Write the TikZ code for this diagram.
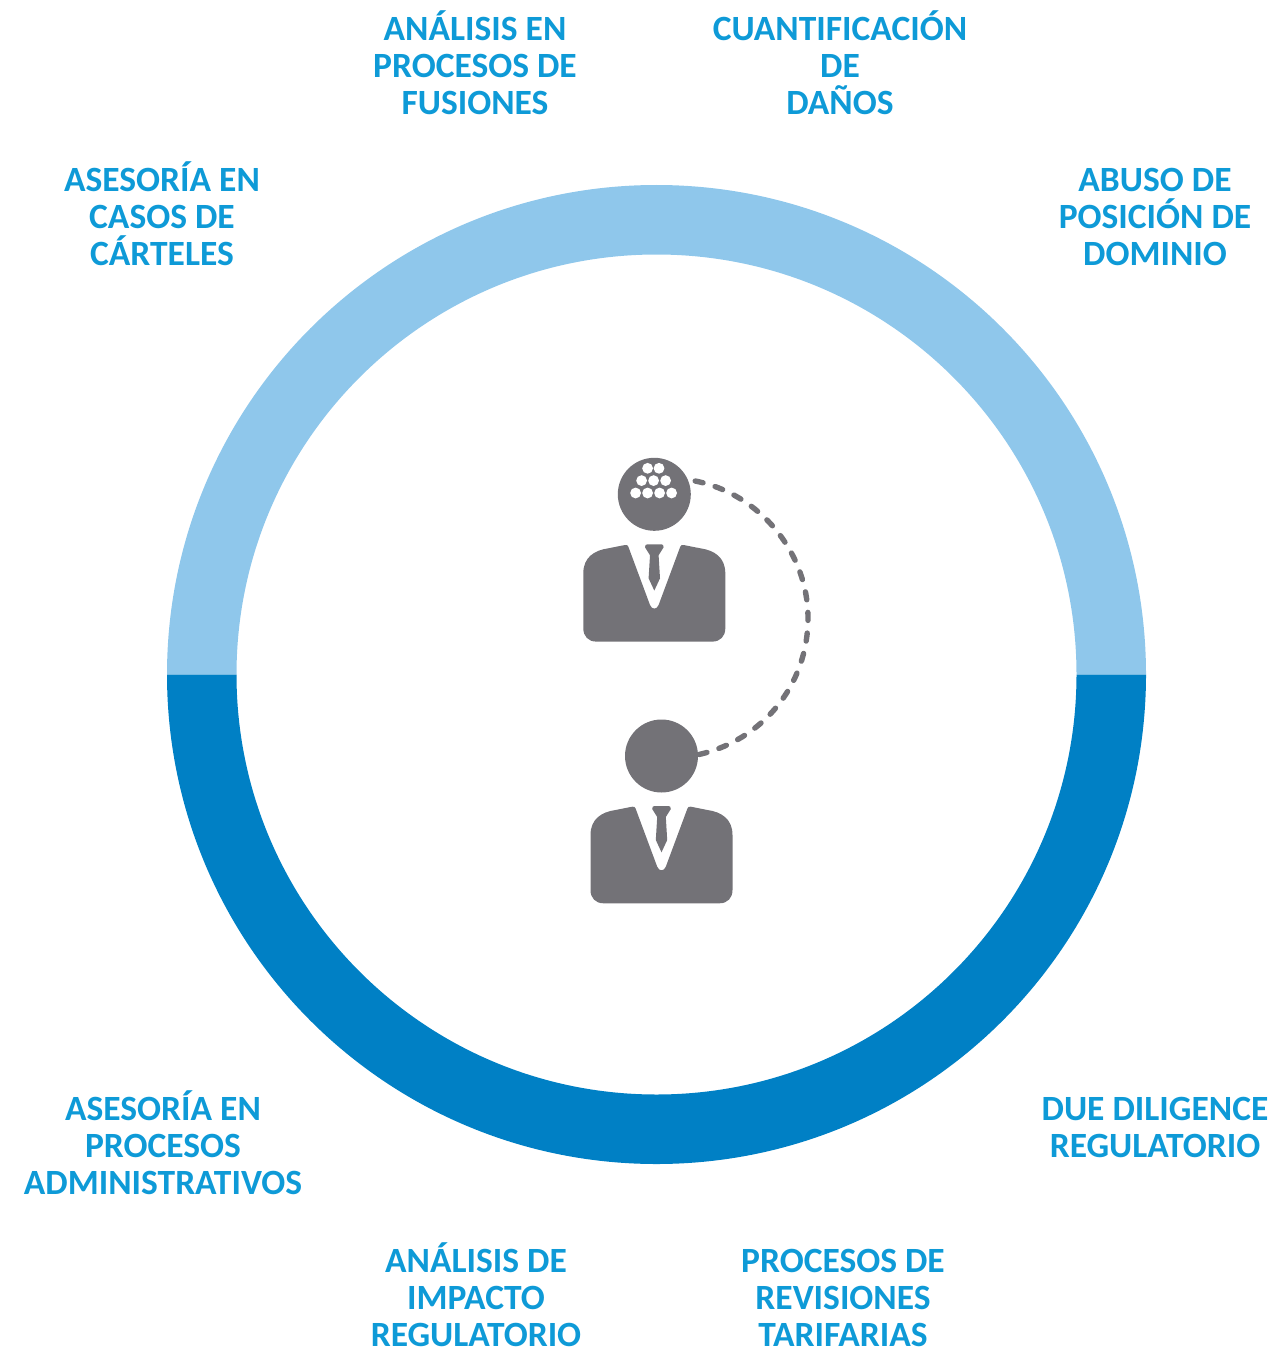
\documentclass[tikz,border=0pt]{standalone}
\usepackage{fontspec}
\setmainfont{Carlito}[Scale=1]
\definecolor{ringlight}{HTML}{8FC7EB}
\definecolor{ringdark}{HTML}{0080C5}
\definecolor{labelblue}{HTML}{0E9AD7}
\definecolor{suit}{HTML}{737277}
\tikzset{
  x=1pt,y=-1pt,
  lbl/.style={text=labelblue,align=center,inner sep=0pt,font=\fontsize{35.5}{37}\selectfont\bfseries},
  headball/.style={circle,fill=suit,minimum size=73pt,inner sep=0pt,outer sep=0pt},
  dot/.style={fill=white},
  link/.style={draw=suit,line width=5.4pt,line cap=round,dash pattern=on 8pt off 12.7pt},
  pics/suitbody/.style={code={
    \fill[suit] (-71,79) .. controls (-71,63) and (-60,56) .. (-46,54) -- (-29.3,50.7)
      .. controls (-27.5,50.4) and (-26.6,51) .. (-26,52.3) -- (-4.3,110.7)
      .. controls (-2.5,115.5) and (2.5,115.5) .. (4.3,110.7) -- (26,52.3)
      .. controls (26.6,51) and (27.5,50.4) .. (29.3,50.7) -- (46,54)
      .. controls (60,56) and (71,63) .. (71,79) -- (71,134)
      .. controls (71,142) and (66,147.3) .. (58,147.3) -- (-58,147.3)
      .. controls (-66,147.3) and (-71,142) .. (-71,134) -- cycle;
    \fill[suit] (-9.3,53) .. controls (-9.3,51) and (-8.5,50) .. (-7,50) -- (7,50)
      .. controls (8.5,50) and (9.3,51) .. (9.3,53) -- (4.3,61) -- (5.7,84) -- (0,96.3)
      -- (-5.7,84) -- (-4.3,61) -- cycle;
  }},
}
\begin{document}
\begin{tikzpicture}
\useasboundingbox (0,0) rectangle (1272,1351);
% ring
\fill[ringlight] (167,674.5) arc[start angle=180,end angle=0,radius=489.5pt] -- (1076.5,674.5) arc[start angle=0,end angle=180,radius=420pt] -- cycle;
\fill[ringdark] (167,674.5) arc[start angle=180,end angle=360,radius=489.5pt] -- (1076.5,674.5) arc[start angle=360,end angle=180,radius=420pt] -- cycle;
% people
\node[headball,outer sep=6.5pt] (headA) at (654.3,494.3) {};
\pic at (654.3,494.3) {suitbody};
\foreach \dx/\dy in {-6.7/-26,4.7/-26,-12.7/-13.7,-0.7/-13.7,11.3/-13.7,-18.7/-1.3,-6.7/-1.3,5.3/-1.3,17.3/-1.3}
  \fill[dot] (654.3+\dx,494.3+\dy) circle[radius=5.4pt];
\node[headball] (headB) at (661.5,756) {};
\pic at (661.5,756) {suitbody};
\coordinate (bend) at (808,618);
\draw[link] (headA.18) .. controls (758.5,493.4) and (808,551.4) .. (bend) .. controls (808,684.6) and (763,740.3) .. (headB.2);
% labels
\node[lbl] (l1) at (475,63) {ANÁLISIS EN\\PROCESOS DE\\FUSIONES};
\node[lbl] (l2) at (840,63) {CUANTIFICACIÓN\\DE\\DAÑOS};
\node[lbl] (l3) at (162,214) {ASESORÍA EN\\CASOS DE\\CÁRTELES};
\node[lbl] (l4) at (1155,217) {ABUSO DE\\POSICIÓN DE\\DOMINIO};
\node[lbl] (l5) at (163,1143) {ASESORÍA EN\\PROCESOS\\ADMINISTRATIVOS};
\node[lbl] (l6) at (1155,1127) {DUE DILIGENCE\\REGULATORIO};
\node[lbl] (l7) at (476,1294.5) {ANÁLISIS DE\\IMPACTO\\REGULATORIO};
\node[lbl] (l8) at (843,1297.5) {PROCESOS DE\\REVISIONES\\TARIFARIAS};
\end{tikzpicture}
\end{document}
